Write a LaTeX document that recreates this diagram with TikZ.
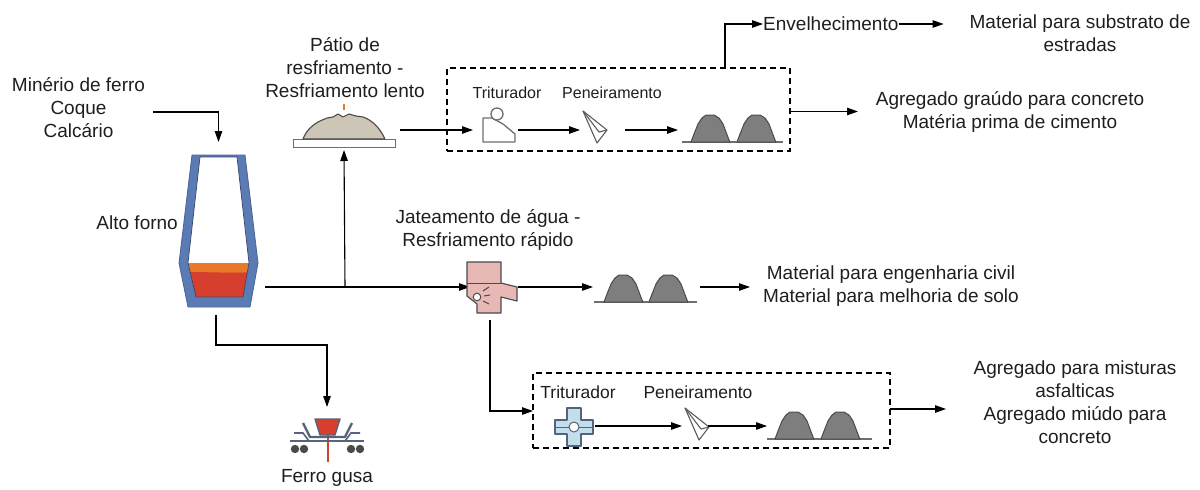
\documentclass[tikz,border=0pt]{standalone}
\usepackage{fontspec}
\setmainfont{Liberation Sans}
\usetikzlibrary{arrows.meta}

\definecolor{furnblue}{HTML}{5B7BB5}
\definecolor{furnedge}{HTML}{4A6396}
\definecolor{moltenorange}{HTML}{E8782A}
\definecolor{moltenred}{HTML}{D63F2E}
\definecolor{slagbeige}{HTML}{CDC5B6}
\definecolor{moundgrey}{HTML}{7E7E7E}
\definecolor{mounddark}{HTML}{4A4A4A}
\definecolor{jetpink}{HTML}{E7B8B6}
\definecolor{crushblue}{HTML}{C3DFEC}
\definecolor{cargrey}{HTML}{56637A}
\definecolor{inkgrey}{HTML}{1E1E1E}

\begin{document}
\begin{tikzpicture}[x=1pt,y=-1pt,
  txt/.style={inner sep=0pt, align=center, text=inkgrey,
    font=\fontsize{19}{23}\selectfont},
  small/.style={inner sep=0pt, text=inkgrey, font=\fontsize{16}{19}\selectfont},
  smallb/.style={inner sep=0pt, text=inkgrey, font=\fontsize{17.5}{20}\selectfont},
  hold/.style={inner sep=0pt, outer sep=0pt, minimum width=#1},
  flow/.style={draw=black, line width=1.1pt, -{Triangle[length=11pt,width=7.5pt]}},
  stagebox/.style={draw=black, line width=1.2pt, dash pattern=on 6pt off 4pt},
  moundline/.style={draw=mounddark!80, line width=1.3pt},
  mound/.pic={\filldraw[fill=moundgrey, draw=mounddark, line width=1pt, line join=round]
    (-20,0) -- (-17,-8) -- (-13,-18) -- (-9,-24) -- (-5,-27) -- (3,-27)
    -- (8,-24) -- (12,-18) -- (15,-10) -- (18,-2) -- (19,0) -- cycle;},
  sieve/.pic={\draw[draw=mounddark!90, line width=1.1pt, line join=round, fill=white]
    (-12,-16) -- (12,3) -- (2,16) -- cycle;
    \draw[draw=mounddark!90, line width=1.1pt] (-12,-16) -- (4,5) -- (12,3);}
]
\useasboundingbox (0,0) rectangle (1200,490);

% ---------- blast furnace ----------
\node[hold=79pt, minimum height=152pt] (furnace) at (218.5,231) {};
\filldraw[fill=furnblue, draw=furnedge, line width=0.8pt, line join=round]
  (192,155) -- (245,155) -- (258,263) -- (250,307) -- (188,307) -- (179,263) -- cycle;
\begin{scope}
  \path[clip] (200,157) -- (237,157) -- (249,263) -- (243,297) -- (196,297) -- (188,263) -- cycle;
  \fill[white] (170,150) rectangle (270,310);
  \fill[moltenorange] (170,263) rectangle (270,310);
  \fill[moltenred] (170,273) .. controls (200,270) and (225,275) .. (270,271) -- (270,310) -- (170,310) -- cycle;
\end{scope}
\draw[draw=furnedge!70!black, line width=0.7pt, line join=round]
  (200,157) -- (237,157) -- (249,263) -- (243,297) -- (196,297) -- (188,263) -- cycle;
\node[txt, anchor=east] (alto) at (178,223) {Alto forno};

% ---------- raw materials ----------
\node[txt] (inputs) at (78.5,108) {Minério de ferro\\Coque\\Calcário};
\coordinate (charge) at (153,112);
\draw[flow] (charge) -| ([yshift=13pt]furnace.north);

% ---------- slow cooling yard ----------
\node[hold=112pt, minimum height=40pt] (slag) at (344,130) {};
\filldraw[fill=white, draw=mounddark!80, line width=1pt] (293,139) rectangle (395,147);
\filldraw[fill=slagbeige, draw=mounddark, line width=1.1pt, line join=round]
  (303,139) .. controls (306,131) and (312,125) .. (320,121)
  -- (327,118) -- (333,117) -- (338,114) -- (343,117) -- (349,114) -- (356,116)
  -- (363,117) .. controls (372,120) and (380,128) .. (385,139) -- cycle;
\draw[moltenorange, line width=1.5pt] (344,104) -- (344,110);
\node[txt] (patio) at (345,68) {Pátio de\\resfriamento -\\Resfriamento lento};

% ---------- main outlet from the furnace ----------
\coordinate (tap) at (265,287);
\coordinate (split) at (345,287);
\node[hold=50pt, minimum height=51pt] (jet) at (495,287) {};
\draw[flow] (tap) -- (jet.west);
\draw[flow] (split) -- (slag.south);

% ---------- coarse aggregate line ----------
\node[stagebox, hold=343pt, minimum height=83pt] (boxA) at (618.5,109.5) {};
\node[hold=45pt, minimum height=30pt] (crushA) at (495.5,130) {};
\node[hold=45pt, minimum height=32pt] (sieveA) at (602.5,130) {};
\node[hold=112pt, minimum height=30pt] (moundsA) at (734,130) {};
\node[small] (tritA) at (507,93) {Triturador};
\node[small] (peneA) at (612,93) {Peneiramento};

% crusher (outlined)
\filldraw[fill=white, draw=mounddark!80, line width=1.3pt, line join=round]
  (483,118) -- (492,118) -- (503,124) -- (515,134) -- (515,142) -- (483,142) -- cycle;
\filldraw[fill=white, draw=mounddark!80, line width=1.3pt] (497,114) circle (6);
\pic at (595,127) {sieve};
\draw[moundline] (682,142) -- (783,142);
\pic at (711,142) {mound};
\pic at (757,142) {mound};

\draw[flow] (slag.east) -- (crushA.west);
\draw[flow] (crushA.east) -- (sieveA.west);
\draw[flow] (sieveA.east) -- (moundsA.west);

\node[txt] (outA) at (1010,111.5) {Agregado graúdo para concreto\\Matéria prima de cimento};
\draw[flow] (boxA.east |- outA) -- ++(68,0);

% ageing branch
\node[txt, anchor=west] (env) at (763,24) {Envelhecimento};
\node[txt] (outRoad) at (1080,33.5) {Material para substrato de\\estradas};
\coordinate (ageTap) at (725,68);
\draw[flow] (ageTap) |- (env.west);
\draw[flow] (env.east) -- ++(45,0);

% ---------- water jet (rapid cooling) ----------
\filldraw[fill=jetpink, draw=mounddark, line width=1.1pt, line join=round]
  (467,262) -- (501,262) -- (501,283) -- (517,287) -- (517,301) -- (501,297)
  -- (501,313) -- (477,313) -- (477,304) -- (467,296) -- cycle;
\draw[mounddark, line width=1pt] (467,283) -- (501,283);
\filldraw[fill=white, draw=mounddark, line width=1pt] (477,297) circle (3.8);
\draw[mounddark, line width=1pt] (483,291) -- (489,287) (484,296) -- (490,295) (483,301) -- (489,304);
\node[txt] (jetlabel) at (488,229.5) {Jateamento de água -\\Resfriamento rápido};

\node[hold=104pt, minimum height=30pt] (moundsB) at (645,287) {};
\draw[moundline] (594,302) -- (697,302);
\pic at (624,302) {mound};
\pic at (669,302) {mound};
\draw[flow] (jet.east) ++(-2,0) -- (moundsB.west);
\node[txt] (outB) at (891,286.5) {Material para engenharia civil\\Material para melhoria de solo};
\draw[flow] (moundsB.east) ++(3,0) -- ++(50,0);

% ---------- fine aggregate line ----------
\node[stagebox, hold=357pt, minimum height=75pt] (boxB) at (711.5,410.5) {};
\node[hold=40pt, minimum height=38pt] (crushB) at (575,426) {};
\node[hold=26pt, minimum height=32pt] (sieveB) at (695,426) {};
\node[hold=105pt, minimum height=30pt] (moundsC) at (819.5,426) {};
\node[smallb] (tritB) at (578,392) {Triturador};
\node[smallb] (peneB) at (698,392) {Peneiramento};

\filldraw[fill=crushblue, draw=cargrey, line width=1.2pt, line join=round]
  (567,408) -- (581,408) -- (581,420) -- (593,420) -- (593,434) -- (581,434)
  -- (581,446) -- (567,446) -- (567,434) -- (555,434) -- (555,420) -- (567,420) -- cycle;
\draw[cargrey, line width=1pt] (555,427) -- (593,427);
\filldraw[fill=white, draw=cargrey, line width=1pt] (574,427) circle (5);
\pic at (697,424) {sieve};
\draw[moundline] (767,439) -- (872,439);
\pic at (795,439) {mound};
\pic at (841,439) {mound};

\coordinate (jetDown) at (490,320);
\draw[flow] (jetDown) |- (boxB.west |- 0,411);
\draw[flow] (crushB.east) -- (sieveB.west);
\draw[flow] (sieveB.east) -- (moundsC.west);

\node[txt] (outC) at (1075,402.5) {Agregado para misturas\\asfalticas\\Agregado miúdo para\\concreto};
\draw[flow] (boxB.east |- 0,409) -- ++(56,0);

% ---------- pig iron ----------
\node[hold=76pt, minimum height=36pt] (ladle) at (327,437) {};
\draw[moltenred, line width=2.5pt] (328,434) -- (328,462);
\draw[cargrey, line width=2.4pt, line join=round]
  (303,423) -- (310,437) -- (345,437) -- (352,423);
\draw[cargrey, line width=2.4pt] (290,441) -- (364,441);
\draw[cargrey, line width=1.6pt] (294,433) -- (303,433) -- (309,441)
  (360,433) -- (351,433) -- (345,441);
\filldraw[fill=moltenred, draw=cargrey, line width=1.4pt, line join=round]
  (315,419) -- (340,419) -- (335,435) -- (320,435) -- cycle;
\fill[mounddark] (295,449) circle (4.2) (304,449) circle (4.2)
  (351,449) circle (4.2) (360,449) circle (4.2);
\node[txt] (gusa) at (327,478) {Ferro gusa};
\coordinate (tapIron) at (216,315);
\draw[flow] (tapIron) |- (300,345) -| ([yshift=12pt]ladle.north);

\end{tikzpicture}
\end{document}
